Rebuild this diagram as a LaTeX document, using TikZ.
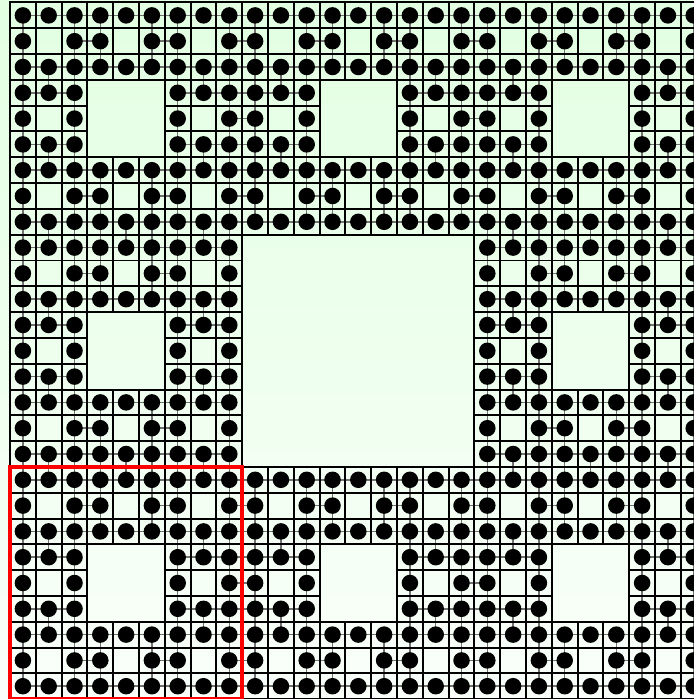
\documentclass[tikz,border=0pt]{standalone}
\usepackage{tikz}
\pgfdeclarelayer{back}
\pgfdeclarelayer{edgelayer}
\pgfsetlayers{back,edgelayer,main}
\definecolor{carpettop}{RGB}{226,255,226}
\definecolor{carpetbottom}{RGB}{250,255,250}
\tikzstyle{cellbox} = [draw=black, line width=1.1pt]
\tikzstyle{dotnode} = [circle, fill=black, inner sep=0pt, minimum size=0.32cm]
\tikzstyle{link} = [draw=black!55, line width=0.8pt]
\tikzstyle{markbox} = [draw=red, line width=2.2pt]
\newcommand{\carpethole}[2]{%
  \pgfmathtruncatemacro\ishole{(mod(#1,3)==1 && mod(#2,3)==1) || (mod(int(#1/3),3)==1 && mod(int(#2/3),3)==1) || (mod(int(#1/9),3)==1 && mod(int(#2/9),3)==1)}}

\begin{document}
\begin{tikzpicture}[x=0.5cm, y=-0.5cm]

    \useasboundingbox (-0.388,-0.097) rectangle (26.473,26.996);
    \begin{pgfonlayer}{back}
    \shade[top color=carpettop, bottom color=carpetbottom] (-0.388,-0.097) rectangle (26.473,26.996);
    \end{pgfonlayer}

    % cells of the carpet, one dot each
    \foreach \r in {0,...,26}{
      \foreach \c in {0,...,26}{
        \carpethole{\r}{\c}
        \ifnum\ishole=0
          \draw[cellbox] (\c,\r) rectangle ++(1,1);
          \node (d-\r-\c) [dotnode] at (\c+0.5,\r+0.5) {};
        \fi
      }
    }

    % links between neighbouring cells
    \begin{pgfonlayer}{edgelayer}
    \foreach \r in {0,...,26}{
      \foreach \c in {0,...,26}{
        \carpethole{\r}{\c}
        \ifnum\ishole=0
          \pgfmathtruncatemacro\cn{\c+1}
          \pgfmathtruncatemacro\rn{\r+1}
          \ifnum\cn<27
            \carpethole{\r}{\cn}
            \ifnum\ishole=0 \draw [link] (d-\r-\c.center) -- (d-\r-\cn.center); \fi
          \fi
          \ifnum\rn<27
            \carpethole{\rn}{\c}
            \ifnum\ishole=0 \draw [link] (d-\r-\c.center) -- (d-\rn-\c.center); \fi
          \fi
        \fi
      }
    }
    \end{pgfonlayer}

    \draw [markbox] (0,18) rectangle (9,27);

\end{tikzpicture}
\end{document}
